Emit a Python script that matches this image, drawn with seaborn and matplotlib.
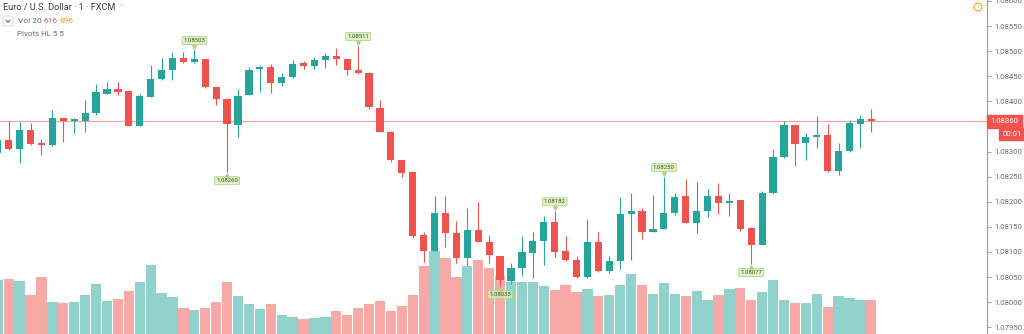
import numpy as np
import pandas as pd
import matplotlib
matplotlib.use("Agg")
import matplotlib.pyplot as plt
import seaborn as sns
from matplotlib import transforms
from matplotlib.patches import FancyBboxPatch, Ellipse
from matplotlib.lines import Line2D

# ---- EUR/USD, 1-minute bars (FXCM) ----
bar_index = list(range(-1, 80))

opens = [1.08297, 1.08323, 1.08305, 1.08343, 1.08317, 1.08313, 1.08367, 1.08361, 1.08361, 1.08377,
         1.08415, 1.08424, 1.08420, 1.08351, 1.08409, 1.08444, 1.08462, 1.08486, 1.08478, 1.08484,
         1.08428, 1.08405, 1.08353, 1.08413, 1.08464, 1.08468, 1.08436, 1.08448, 1.08476, 1.08470,
         1.08482, 1.08490, 1.08484, 1.08462, 1.08456, 1.08387, 1.08339, 1.08283, 1.08259, 1.08134,
         1.08102, 1.08178, 1.08138, 1.08088, 1.08144, 1.08120, 1.08092, 1.08042, 1.08068, 1.08098,
         1.08122, 1.08160, 1.08102, 1.08084, 1.08050, 1.08120, 1.08062, 1.08082, 1.08176, 1.08182,
         1.08140, 1.08146, 1.08178, 1.08211, 1.08158, 1.08182, 1.08211, 1.08197, 1.08203, 1.08148,
         1.08114, 1.08217, 1.08289, 1.08353, 1.08317, 1.08329, 1.08333, 1.08261, 1.08301, 1.08355,
         1.08365]

highs = [1.08330, 1.08361, 1.08359, 1.08357, 1.08325, 1.08383, 1.08367, 1.08366, 1.08403, 1.08434,
         1.08438, 1.08438, 1.08421, 1.08415, 1.08472, 1.08486, 1.08498, 1.08498, 1.08503, 1.08485,
         1.08429, 1.08406, 1.08424, 1.08468, 1.08472, 1.08474, 1.08456, 1.08482, 1.08480, 1.08488,
         1.08496, 1.08506, 1.08485, 1.08511, 1.08458, 1.08403, 1.08340, 1.08284, 1.08260, 1.08140,
         1.08211, 1.08211, 1.08162, 1.08188, 1.08199, 1.08134, 1.08093, 1.08078, 1.08132, 1.08140,
         1.08172, 1.08182, 1.08132, 1.08092, 1.08166, 1.08140, 1.08092, 1.08209, 1.08217, 1.08188,
         1.08213, 1.08250, 1.08217, 1.08245, 1.08239, 1.08225, 1.08237, 1.08217, 1.08204, 1.08149,
         1.08221, 1.08303, 1.08361, 1.08354, 1.08337, 1.08371, 1.08355, 1.08317, 1.08363, 1.08373,
         1.08385]

lows = [1.08285, 1.08303, 1.08277, 1.08313, 1.08293, 1.08312, 1.08319, 1.08337, 1.08339, 1.08373,
        1.08414, 1.08413, 1.08350, 1.08350, 1.08408, 1.08442, 1.08442, 1.08477, 1.08477, 1.08427,
        1.08393, 1.08260, 1.08329, 1.08412, 1.08418, 1.08416, 1.08430, 1.08447, 1.08464, 1.08464,
        1.08466, 1.08472, 1.08452, 1.08455, 1.08385, 1.08338, 1.08279, 1.08249, 1.08128, 1.08080,
        1.08101, 1.08110, 1.08078, 1.08074, 1.08119, 1.08078, 1.08033, 1.08036, 1.08052, 1.08048,
        1.08074, 1.08090, 1.08083, 1.08049, 1.08049, 1.08061, 1.08058, 1.08066, 1.08084, 1.08126,
        1.08139, 1.08145, 1.08174, 1.08157, 1.08138, 1.08170, 1.08176, 1.08172, 1.08142, 1.08077,
        1.08113, 1.08216, 1.08287, 1.08271, 1.08283, 1.08307, 1.08260, 1.08253, 1.08300, 1.08307,
        1.08339]

closes = [1.08323, 1.08305, 1.08343, 1.08315, 1.08313, 1.08367, 1.08361, 1.08365, 1.08377, 1.08418,
          1.08424, 1.08418, 1.08351, 1.08411, 1.08444, 1.08462, 1.08486, 1.08478, 1.08484, 1.08428,
          1.08405, 1.08355, 1.08411, 1.08462, 1.08468, 1.08436, 1.08448, 1.08474, 1.08470, 1.08482,
          1.08490, 1.08484, 1.08462, 1.08456, 1.08389, 1.08339, 1.08283, 1.08257, 1.08132, 1.08102,
          1.08178, 1.08138, 1.08088, 1.08144, 1.08120, 1.08094, 1.08044, 1.08068, 1.08100, 1.08122,
          1.08160, 1.08100, 1.08084, 1.08050, 1.08120, 1.08062, 1.08082, 1.08176, 1.08182, 1.08140,
          1.08146, 1.08178, 1.08209, 1.08158, 1.08182, 1.08211, 1.08197, 1.08201, 1.08146, 1.08114,
          1.08217, 1.08289, 1.08353, 1.08315, 1.08329, 1.08333, 1.08261, 1.08301, 1.08357, 1.08365,
          1.08360]

volumes = [977, 996, 954, 711, 1032, 585, 567, 574, 700, 900,
           597, 628, 773, 947, 1249, 742, 670, 465, 434, 465,
           585, 947, 682, 548, 453, 548, 344, 302, 266, 290,
           308, 422, 344, 465, 543, 597, 422, 507, 706, 1231,
           1502, 1381, 1037, 1231, 1339, 1200, 1050, 947, 947, 947,
           869, 805, 892, 755, 815, 682, 711, 887, 1081, 887,
           724, 929, 729, 682, 784, 610, 711, 815, 833, 610,
           755, 977, 615, 556, 556, 719, 483, 682, 657, 610,
           616]

price_ticks = [1.07950, 1.08000, 1.08050, 1.08100, 1.08150, 1.08200, 1.08250,
               1.08300, 1.08400, 1.08450, 1.08500, 1.08550, 1.08600]

title_text = "Euro / U.S. Dollar · 1 · FXCM"
vol_label = "Vol 20"
vol_value = "616"
vol_ma_value = "696"
pivot_label = "Pivots HL 5 5"
countdown = "00:01"
pivot_len = 5

UP = "#26a69a"
DOWN = "#ef5350"
UP_VOL = "#92d2cc"
DOWN_VOL = "#f7a9a7"
AXIS_TEXT = "#6a6d78"

df = pd.DataFrame({"i": bar_index, "open": opens, "high": highs, "low": lows,
                   "close": closes, "volume": volumes})
df["dir"] = np.where(df["close"] >= df["open"], "up", "down")

sns.set_theme(style="white")
plt.rcParams["font.family"] = ["Roboto", "DejaVu Sans"]

W, H = 1024, 334
fig = plt.figure(figsize=(W / 100, H / 100), dpi=100)
fig.patch.set_facecolor("white")
plot_w = 987 / W
ax_vol = fig.add_axes([0, 0, plot_w, 1])
ax = fig.add_axes([0, 0, plot_w, 1], sharex=ax_vol)
ax.patch.set_visible(False)

xlim = (-0.797, 89.59)
ylim = (1.079367, 1.086018)

# volume histogram in its own overlay scale
sns.barplot(data=df, x="i", y="volume", hue="dir", native_scale=True, dodge=False,
            palette={"up": UP_VOL, "down": DOWN_VOL}, width=0.94, saturation=1,
            linewidth=0, legend=False, ax=ax_vol, err_kws={"linewidth": 0})
ax_vol.set_ylim(0, 334 * 18.1)
ax_vol.set_xlim(*xlim)
ax_vol.axis("off")

# candles: wicks then bodies
colors = np.where(df["dir"] == "up", UP, DOWN)
ax.vlines(df["i"], df["low"], df["high"], colors=colors, linewidth=0.8, zorder=3)
body_lo = np.minimum(df["open"], df["close"])
body_h = np.maximum(np.abs(df["close"] - df["open"]), 0.000025)
ax.bar(df["i"], body_h, bottom=body_lo, width=0.66, color=colors, linewidth=0, zorder=4)

ax.set_xlim(*xlim)
ax.set_ylim(*ylim)

# last price line
last = df["close"].iloc[-1]
ax.axhline(last, color="#f7a29e", linewidth=0.8, zorder=2)

# pivots high/low (5 left, 5 right)
n = len(df)
pivot_highs, pivot_lows = [], []
for k in range(pivot_len, n - pivot_len):
    win_h = df["high"].iloc[k - pivot_len:k + pivot_len + 1]
    win_l = df["low"].iloc[k - pivot_len:k + pivot_len + 1]
    if df["high"].iloc[k] == win_h.max() and (win_h == win_h.max()).sum() == 1:
        pivot_highs.append(k)
    if df["low"].iloc[k] == win_l.min() and (win_l == win_l.min()).sum() == 1:
        pivot_lows.append(k)

label_fc = (0.84, 0.94, 0.70, 0.75)
label_ec = "#b0d487"
label_box = dict(boxstyle="round,pad=0.25,rounding_size=0.15", fc=label_fc, ec=label_ec, lw=0.6)
for k in pivot_highs:
    xi, yv = df["i"].iloc[k], df["high"].iloc[k]
    ax.annotate(f"{yv:.5f}", xy=(xi, yv), xytext=(0, 6.5), textcoords="offset points",
                ha="center", va="center", fontsize=4.3, color="#3d4a2c",
                bbox=label_box, zorder=6, annotation_clip=False)
    ax.plot([xi], [yv], marker="v", ms=2.6, color=label_ec, zorder=6,
            transform=transforms.offset_copy(ax.transData, fig=fig, x=0, y=2.2, units="points"))
for k in pivot_lows:
    xi, yv = df["i"].iloc[k], df["low"].iloc[k]
    ax.annotate(f"{yv:.5f}", xy=(xi, yv), xytext=(0, -6.5), textcoords="offset points",
                ha="center", va="center", fontsize=4.3, color="#3d4a2c",
                bbox=label_box, zorder=6, annotation_clip=False)
    ax.plot([xi], [yv], marker="^", ms=2.6, color=label_ec, zorder=6,
            transform=transforms.offset_copy(ax.transData, fig=fig, x=0, y=-2.2, units="points"))

# right price scale
for s in ["top", "left", "bottom"]:
    ax.spines[s].set_visible(False)
ax.spines["right"].set_color("#9598a1")
ax.spines["right"].set_linewidth(0.8)
ax.yaxis.tick_right()
ax.set_yticks(price_ticks)
ax.set_yticklabels([f"{t:.5f}" for t in price_ticks])
ax.tick_params(axis="y", length=3, width=0.6, color="#9598a1", labelsize=5.6,
               labelcolor=AXIS_TEXT, pad=2)
ax.tick_params(axis="x", bottom=False, labelbottom=False)
ax.grid(False)

# last price tag and bar countdown
ax.annotate(f"{last:.5f}", xy=(1.0, last), xycoords=("axes fraction", "data"),
            xytext=(2.5, 0), textcoords="offset points", ha="left", va="center",
            fontsize=5.6, color="white", zorder=10, annotation_clip=False,
            bbox=dict(boxstyle="square,pad=0.45", fc=DOWN, ec=DOWN))
ax.annotate(countdown, xy=(1.0, last), xycoords=("axes fraction", "data"),
            xytext=(11, -9), textcoords="offset points", ha="left", va="center",
            fontsize=5.6, color="white", zorder=10, annotation_clip=False,
            bbox=dict(boxstyle="square,pad=0.4", fc=DOWN, ec=DOWN))

# header legend
def px(x, y):
    return x / W, 1 - y / H

fig.text(*px(3, 7), title_text, fontsize=6.6, color="#363a45", va="center", ha="left")
fig.text(*px(118, 6), "···", fontsize=6.6, color="#9598a1", va="center", ha="left")
fig.add_artist(FancyBboxPatch(px(3, 26), 10 / W, 10 / H, boxstyle="round,pad=0,rounding_size=0.002",
                              fc="white", ec="#d1d4dc", lw=0.6, transform=fig.transFigure))
fig.add_artist(Line2D([px(6, 0)[0], px(8, 0)[0], px(10, 0)[0]],
                      [px(0, 20)[1], px(0, 22.5)[1], px(0, 20)[1]],
                      color="#50535e", lw=0.7, transform=fig.transFigure))
fig.text(*px(18, 21), vol_label, fontsize=6.0, color=AXIS_TEXT, va="center", ha="left")
fig.text(*px(43, 21), vol_value, fontsize=6.0, color=DOWN, va="center", ha="left")
fig.text(*px(59, 21), vol_ma_value, fontsize=6.0, color="#ff9800", va="center", ha="left")
fig.text(*px(17, 34), pivot_label, fontsize=5.8, color=AXIS_TEXT, va="center", ha="left")

# alert icon
fig.add_artist(Ellipse(px(978, 7), 8 / W, 8 / H, fc="white", ec="#ff9800", lw=0.7,
                       transform=fig.transFigure))
fig.text(*px(978, 7.3), "!", fontsize=4.5, color="#ff9800", va="center", ha="center")

fig.savefig("out.png", dpi=100, facecolor="white")
